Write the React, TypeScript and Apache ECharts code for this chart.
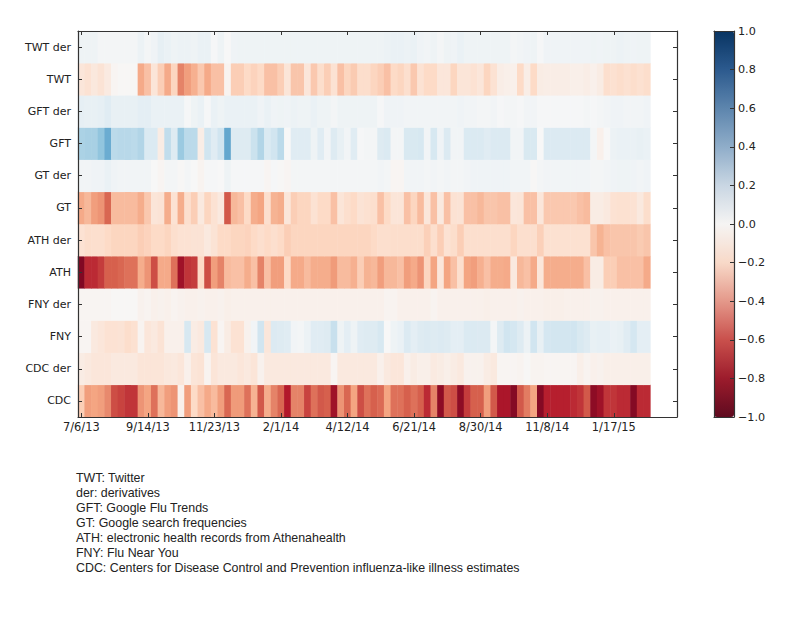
import React, { useEffect, useRef } from "react";
import * as echarts from "echarts";

const rowLabels = ["CDC", "CDC der", "FNY", "FNY der", "ATH", "ATH der", "GT", "GT der", "GFT", "GFT der", "TWT", "TWT der"];
const xTickLabels = ["7/6/13", "9/14/13", "11/23/13", "2/1/14", "4/12/14", "6/21/14", "8/30/14", "11/8/14", "1/17/15"];
const colorTicks = [-1, -0.8, -0.6, -0.4, -0.2, 0, 0.2, 0.4, 0.6, 0.8, 1];
const captionLines = [
  "TWT: Twitter",
  "der: derivatives",
  "GFT: Google Flu Trends",
  "GT: Google search frequencies",
  "ATH: electronic health records from Athenahealth",
  "FNY: Flu Near You",
  "CDC: Centers for Disease Control and Prevention influenza-like illness estimates",
];

const twtDer = [
  .05, .05, .05, .02, .02, .02, .02, .02, .02, .06,
  .02, .04, .09, .07, .05, .06, .06, .05, .07, .07,
  .01, .05, 0, .04, .05, .05, .05, .05, .05, .05,
  .05, .05, .05, .05, .05, .05, .05, .05, .05, .05,
  .05, .05, .05, .05, .05, .05, .06, .07, .07, .06,
  .07, .04, .03, .05, .02, .05, .04, .07, .05, .05,
  .05, .05, .05, .05, .05, .02, .03, .04, .05, .01,
  .04, .04, .04, .04, .04, .04, .04, .05, .04, .05,
  .05, .06, .05, .04, .05, .05,
];
const twt = [
  -.12, -.15, -.11, -.14, -.09, -.02, -.01, -.01, -.01, -.38,
  -.3, -.13, -.25, -.38, -.22, -.5, -.42, -.36, -.27, -.38,
  -.3, -.3, -.03, -.25, -.25, -.2, -.23, -.2, -.3, -.3,
  -.25, -.13, -.28, -.28, -.12, -.27, -.18, -.25, -.15, -.3,
  -.22, -.26, -.18, -.18, -.22, -.25, -.3, -.2, -.22, -.17,
  -.27, -.15, -.2, -.2, -.12, -.12, -.22, -.13, -.13, -.15,
  -.12, -.22, -.15, -.07, -.06, -.05, -.2, -.07, -.2, -.08,
  -.07, -.07, -.07, -.07, -.06, -.06, -.07, -.05, -.08, -.17,
  -.16, -.18, -.16, -.18, -.16, -.18,
];
const gftDer = [
  .09, .08, .08, .09, .12, .08, .08, .08, .08, .1,
  .1, .07, .07, .07, .07, .07, .01, .05, .07, .01,
  .07, .05, .07, .07, .07, .07, .07, .04, .07, .04,
  .05, .04, .06, .05, .05, .07, .05, .05, .02, .05,
  .05, .05, .05, .05, .05, .01, .04, .04, .04, .03,
  .03, .03, .03, .03, .03, .03, .03, .04, .03, .03,
  .02, .02, .03, .01, .02, .02, .01, .03, .03, .01,
  .01, .01, .01, .01, .01, .01, .02, .01, .02, .03,
  .04, .04, .03, .03, .03, .04,
];
const gft = [
  .32, .33, .33, .4, .5, .27, .28, .28, .27, .3,
  .15, .15, -.08, .25, .13, .37, .27, .27, -.07, .2,
  .12, .2, .52, .13, .13, .13, .22, .3, .15, .2,
  .27, 0, .12, .12, .12, .05, .12, .03, .13, .08,
  .03, .12, .01, .02, .02, .13, .15, .02, .02, .16,
  .16, .17, .03, .17, .04, .14, .03, .03, .15, .15,
  .15, .12, .14, .14, .14, .03, .03, .16, .16, 0,
  .14, .14, .14, .14, .14, .14, .14, .02, -.05, 0,
  .06, .07, .07, .07, .08, .07,
];
const gtDer = [
  .03, .03, .04, .04, .07, .04, .03, .03, .03, .03,
  .03, 0, -.02, .02, .02, -.01, .02, 0, -.03, .01,
  .01, 0, .05, .01, .01, .01, .01, .01, -.02, .01,
  -.01, -.02, .02, .02, .02, .02, .02, .02, .02, .02,
  .02, .02, .02, .02, .02, .03, .02, -.02, -.02, .03,
  .03, .03, .02, .03, .02, .03, .02, .02, .03, .04,
  .04, .04, .04, .04, .04, .03, .03, .03, -.01, .02,
  .03, .03, .03, .03, .03, .03, .03, .02, .02, .03,
  .04, .05, .05, .04, .03, .04,
];
const gt = [
  -.38, -.33, -.42, -.45, -.58, -.32, -.32, -.32, -.32, -.37,
  -.27, -.13, -.14, -.37, -.15, -.37, -.17, -.25, -.1, -.22,
  -.15, -.1, -.62, -.33, -.3, -.2, -.37, -.4, -.17, -.35,
  -.37, -.12, -.25, -.22, -.22, -.15, -.2, -.2, -.3, -.13,
  -.17, -.2, -.14, -.16, -.17, -.3, -.2, -.13, -.13, -.3,
  -.22, -.32, -.12, -.3, -.1, -.3, -.15, -.14, -.3, -.3,
  -.33, -.28, -.28, -.3, -.3, -.12, -.13, -.3, -.3, -.12,
  -.27, -.27, -.27, -.27, -.27, -.3, -.32, -.08, -.08, -.1,
  -.15, -.16, -.16, -.15, -.1, -.18,
];
const athDer = [
  -.15, -.18, -.17, -.17, -.2, -.22, -.22, -.22, -.22, -.25,
  -.23, -.2, -.2, -.22, -.17, -.15, -.15, -.14, -.14, -.1,
  -.14, -.2, -.2, -.22, -.22, -.23, -.2, -.17, -.2, -.17,
  -.2, -.25, -.22, -.22, -.22, -.22, -.22, -.22, -.22, -.22,
  -.22, -.22, -.22, -.22, -.2, -.17, -.17, -.18, -.18, -.18,
  -.18, -.18, -.24, -.17, -.25, -.15, -.18, -.25, -.17, -.17,
  -.17, -.17, -.17, -.17, -.17, -.22, -.17, -.17, -.17, -.24,
  -.16, -.16, -.16, -.16, -.16, -.16, -.16, -.28, -.35, -.3,
  -.28, -.28, -.28, -.28, -.26, -.28,
];
const ath = [
  -.93, -.75, -.75, -.7, -.6, -.6, -.58, -.55, -.55, -.37,
  -.45, -.65, -.38, -.38, -.55, -.85, -.72, -.7, -.2, -.65,
  -.42, -.5, -.32, -.3, -.3, -.37, -.3, -.5, -.3, -.42,
  -.42, -.2, -.38, -.38, -.32, -.37, -.37, -.37, -.43, -.32,
  -.32, -.36, -.25, -.35, -.33, -.42, -.33, -.33, -.3, -.42,
  -.38, -.45, -.22, -.4, -.12, -.4, -.3, -.17, -.4, -.42,
  -.36, -.3, -.37, -.37, -.38, -.1, -.33, -.3, -.38, -.12,
  -.37, -.37, -.37, -.37, -.37, -.37, -.3, -.08, -.08, -.25,
  -.25, -.3, -.3, -.3, -.3, -.38,
];
const fnyDer = [
  -.02, -.02, -.02, -.02, -.02, -.01, -.01, -.01, -.01, -.04,
  -.03, -.05, -.04, -.05, -.03, -.04, -.05, -.05, -.04, -.05,
  -.05, -.04, -.06, -.05, -.05, -.05, -.05, -.05, -.05, -.05,
  -.05, -.05, -.05, -.05, -.05, -.05, -.05, -.05, -.05, -.05,
  -.05, -.05, -.05, -.05, -.05, -.05, -.03, -.03, -.05, -.05,
  -.05, -.05, -.05, -.03, -.05, -.05, -.05, -.05, -.05, -.05,
  -.05, -.06, -.05, -.05, -.05, -.05, -.04, -.05, -.05, -.05,
  -.06, -.06, -.06, -.05, -.05, -.05, -.05, -.04, -.04, -.05,
  -.05, -.05, -.05, -.05, -.05, -.05,
];
const fny = [
  -.02, -.02, -.1, -.12, -.15, -.15, -.14, -.18, -.16, -.03,
  -.12, -.1, -.14, -.05, -.05, -.05, .17, -.08, -.1, .17,
  -.15, -.02, -.08, -.15, -.15, -.04, .03, .2, -.12, .14,
  .13, .12, .03, .02, .06, .12, .12, .13, .23, .05,
  .1, .05, .12, .13, .13, .17, 0, .05, .07, .14,
  .1, .13, .14, .13, .14, .13, .1, .1, .15, .15,
  .14, .14, .02, .13, .2, .18, .13, .06, .2, .08,
  .18, .19, .19, .19, .2, .16, .13, .08, .09, .09,
  .07, .08, .12, .18, .1, .1,
];
const cdcDer = [
  -.08, -.1, -.12, -.12, -.12, -.1, -.1, -.1, -.1, -.13,
  -.13, -.13, -.13, -.11, -.1, -.12, -.05, -.13, -.14, -.03,
  -.13, -.1, -.1, -.1, -.12, -.1, -.13, -.04, -.1, -.1,
  -.1, -.1, -.1, -.1, -.1, -.1, -.1, -.1, -.02, -.1,
  -.1, -.1, -.1, -.1, -.1, -.05, -.1, -.12, -.12, -.05,
  -.08, -.06, -.06, -.09, -.08, -.06, -.08, -.1, -.04, -.04,
  -.04, -.08, -.1, -.02, -.02, -.02, -.03, -.01, -.03, -.03,
  -.02, -.02, -.02, -.02, -.02, -.06, -.03, -.05, -.04, -.06,
  -.06, -.06, -.06, -.06, -.06, -.06,
];
const cdc = [
  -.25, -.42, -.4, -.42, -.48, -.65, -.68, -.72, -.72, -.45,
  -.4, -.55, -.33, -.42, -.45, -.05, -.42, -.2, -.3, -.38,
  -.32, -.42, -.58, -.43, -.43, -.55, -.35, -.62, -.37, -.5,
  -.58, -.8, -.5, -.5, -.68, -.55, -.62, -.6, -.85, -.45,
  -.58, -.4, -.65, -.55, -.6, -.57, -.4, -.55, -.55, -.6,
  -.55, -.6, -.75, -.5, -.9, -.62, -.65, -.9, -.7, -.6,
  -.6, -.42, -.62, -.82, -.82, -.92, -.62, -.52, -.4, -.92,
  -.78, -.78, -.78, -.78, -.75, -.72, -.62, -.9, -.85, -.72,
  -.72, -.75, -.75, -.92, -.75, -.75,
];

const rows = [cdc, cdcDer, fny, fnyDer, ath, athDer, gt, gtDer, gft, gftDer, twt, twtDer];
const columnCount = 90;
const tickEvery = 10;
const columns = Array.from({ length: columnCount }, (_, i) => String(i));
const heatData: [number, number, number][] = [];
rows.forEach((row, y) => row.forEach((v, x) => heatData.push([x, y, v])));

const rdBu = ["#67001f", "#b2182b", "#d6604d", "#f4a582", "#fddbc7", "#f7f7f7", "#d1e5f0", "#92c5de", "#4393c3", "#2166ac", "#053061"];
const barColors = ["#5f0a1f", "#9c1c2c", "#c9504c", "#e4988a", "#f8d9c8", "#f5f4f3", "#c9d6e3", "#8fadc9", "#5d85ad", "#2c5a8e", "#083462"];

const ink = "#333";
const tickFont = { fontFamily: "DejaVu Sans", fontSize: 11, color: "#222" };
const isTick = (i: number) => i % tickEvery === 0;

export default function App() {
  const ref = useRef<HTMLDivElement>(null);
  useEffect(() => {
    const chart = echarts.init(ref.current!, undefined, { renderer: "svg" });
    const frame = { show: true, onZero: false, lineStyle: { color: ink, width: 1.2 } };
    const z = 5;
    chart.setOption({
      animation: false,
      backgroundColor: "#fff",
      grid: [
        { left: 78, top: 31, width: 599, height: 386 },
        { left: 714, top: 31, width: 20, height: 386 },
      ],
      xAxis: [
        {
          type: "category", gridIndex: 0, data: columns, position: "bottom", axisLine: frame, z,
          axisTick: { show: true, inside: true, length: 4, alignWithLabel: true, interval: (i: number) => isTick(i), lineStyle: { color: ink } },
          axisLabel: { ...tickFont, fontSize: 11.4, margin: 4, interval: (i: number) => isTick(i), formatter: (_: string, i: number) => xTickLabels[i / tickEvery] ?? "" },
          splitLine: { show: false },
        },
        {
          type: "category", gridIndex: 0, data: columns, position: "top", axisLine: frame, z,
          axisTick: { show: true, inside: true, length: 4, alignWithLabel: true, interval: (i: number) => isTick(i), lineStyle: { color: ink } },
          axisLabel: { show: false }, splitLine: { show: false },
        },
        { type: "category", gridIndex: 1, data: ["bar"], position: "bottom", axisLine: frame, z, axisTick: { show: false }, axisLabel: { show: false } },
        { type: "category", gridIndex: 1, data: ["bar"], position: "top", axisLine: frame, z, axisTick: { show: false }, axisLabel: { show: false } },
      ],
      yAxis: [
        {
          type: "category", gridIndex: 0, data: rowLabels, position: "left", axisLine: frame, z,
          axisTick: { show: true, inside: true, length: 4, alignWithLabel: true, lineStyle: { color: ink } },
          axisLabel: { ...tickFont, margin: 7, interval: 0 }, splitLine: { show: false },
        },
        {
          type: "category", gridIndex: 0, data: rowLabels, position: "right", axisLine: frame, z,
          axisTick: { show: true, inside: true, length: 4, alignWithLabel: true, lineStyle: { color: ink } },
          axisLabel: { show: false }, splitLine: { show: false },
        },
        {
          type: "value", gridIndex: 1, min: -1, max: 1, interval: 0.2, position: "right", axisLine: frame, z,
          axisTick: { show: true, inside: true, length: 4, lineStyle: { color: ink } },
          axisLabel: { ...tickFont, fontSize: 11.2, margin: 4, formatter: (v: number) => v.toFixed(1).replace("-", "\u2212") },
          splitLine: { show: false },
        },
        {
          type: "value", gridIndex: 1, min: -1, max: 1, interval: 0.2, position: "left", axisLine: frame, z,
          axisTick: { show: false }, axisLabel: { show: false }, splitLine: { show: false },
        },
      ],
      visualMap: [
        { type: "continuous", show: false, min: colorTicks[0], max: colorTicks[10], seriesIndex: 0, inRange: { color: rdBu } },
        {
          type: "continuous", show: true, min: colorTicks[0], max: colorTicks[10], seriesIndex: [], left: 714, top: 31, padding: 0, z: 2,
          itemWidth: 20, itemHeight: 386, calculable: false, hoverLink: false, inRange: { color: barColors },
        },
      ],
      series: [
        { type: "heatmap", xAxisIndex: 0, yAxisIndex: 0, data: heatData, progressive: 0, emphasis: { disabled: true }, silent: true, z: 2 },
      ],
      graphic: captionLines.map((text, i) => ({
        type: "text", left: 76, top: 472 + i * 15,
        style: { text, fontFamily: "Liberation Sans", fontSize: 12.4, fill: "#222" },
      })),
    });
    return () => chart.dispose();
  }, []);
  return <div ref={ref} style={{ position: "absolute", left: 0, top: 0, width: 800, height: 640 }} />;
}
